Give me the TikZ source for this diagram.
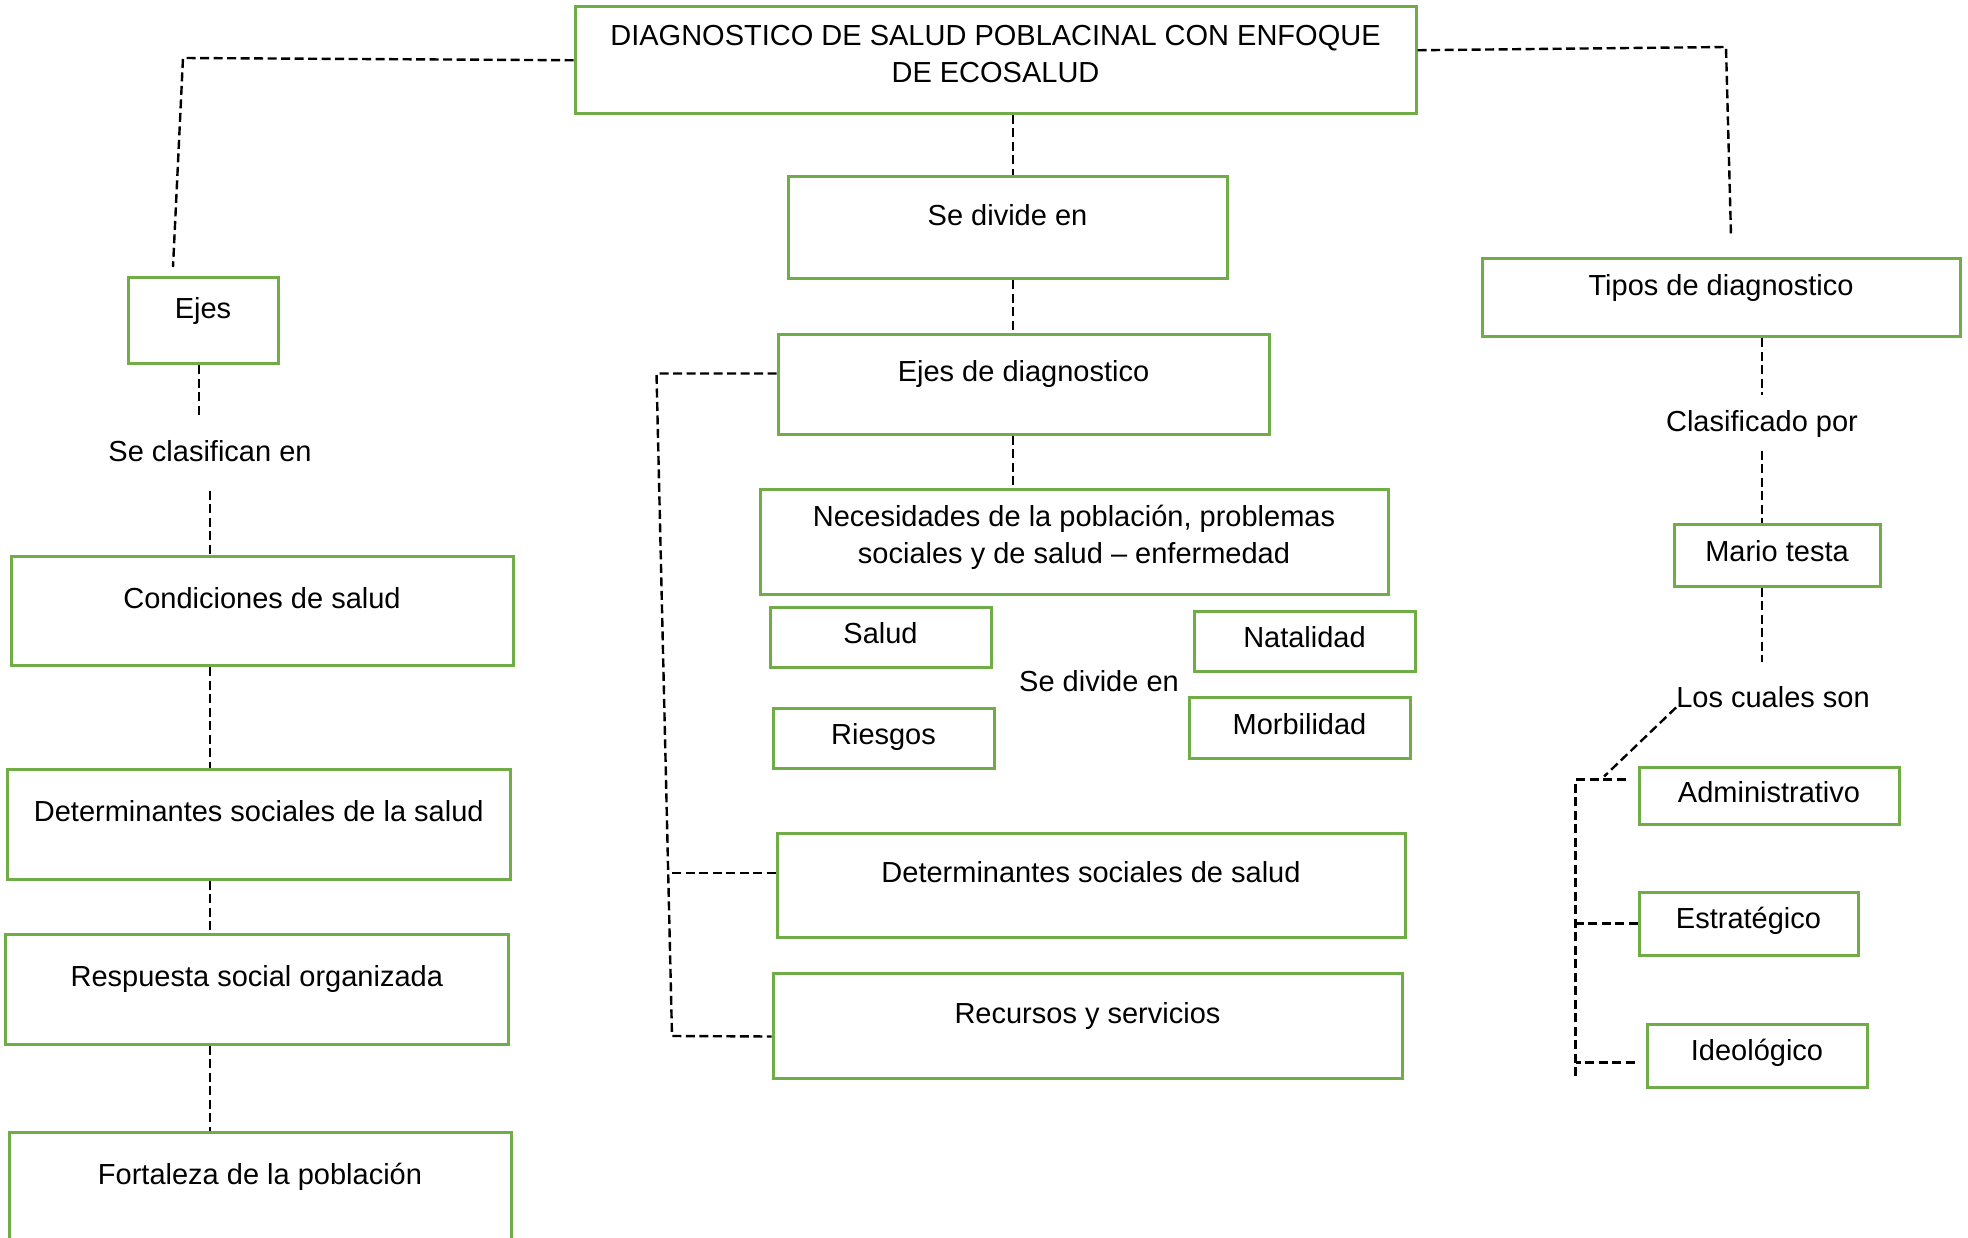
\documentclass[tikz,border=0pt]{standalone}
\usepackage{fontspec}
\setmainfont{Liberation Sans}
\definecolor{boxgreen}{HTML}{70AD47}
\tikzset{
  gbox/.style={draw=boxgreen, line width=3pt, rectangle, inner sep=0pt, align=center},
  one/.style={gbox, text height=21pt, text depth=8pt},
  tall/.style={gbox, text height=21pt, text depth=26pt},
  word/.style={inner xsep=0pt, text height=21pt, text depth=4pt},
  link/.style={line width=2.4pt, dash pattern=on 9pt off 4.5pt},
}
\begin{document}
\begin{tikzpicture}[x=1pt,y=-1pt,font=\fontsize{29pt}{37pt}\selectfont]
\useasboundingbox (0,0) rectangle (1968,1238);
\coordinate (spine) at (1013,0);
\coordinate (lspine) at (210,0);
\coordinate (rspine) at (1762,0);
\coordinate (ejestop) at (173,267);
\coordinate (tipostop) at (1731,236);
\coordinate (cbot) at (672,1036);

\node[gbox, text depth=13.5pt, minimum width=841pt, minimum height=106.5pt] (diag) at (995.5,60.25) {DIAGNOSTICO DE SALUD POBLACINAL CON ENFOQUE\\DE ECOSALUD};
\node[tall, minimum width=439pt, minimum height=102pt] (sediv) at (1007.5,228) {Se divide en};
\node[tall, minimum width=491pt, minimum height=99pt] (ejesd) at (1023.5,384.5) {Ejes de diagnostico};
\node[gbox, text depth=15pt, minimum width=628pt, minimum height=105pt] (neces) at (1074,541.5) {Necesidades de la población, problemas\\sociales y de salud – enfermedad};
\node[one, minimum width=221pt, minimum height=60pt] (salud) at (880.5,637) {Salud};
\node[one, minimum width=221pt, minimum height=60pt] (riesgo) at (883.5,738) {Riesgos};
\node[one, minimum width=221pt, minimum height=60pt] (natal) at (1304.5,641) {Natalidad};
\node[one, minimum width=221pt, minimum height=61pt] (morb) at (1299.5,727.5) {Morbilidad};
\node[word] (divtxt) at (1099,683) {Se divide en};
\node[tall, minimum width=628pt, minimum height=104pt] (dsal) at (1091,885) {Determinantes sociales de salud};
\node[tall, minimum width=629pt, minimum height=105pt] (recur) at (1087.5,1025.5) {Recursos y servicios};

\node[tall, minimum width=150pt, minimum height=86pt] (ejes) at (203,321) {Ejes};
\node[word, inner ysep=25pt] (clasif) at (210,453) {Se clasifican en};
\node[tall, minimum width=502pt, minimum height=109.5pt] (cond) at (262,610.75) {Condiciones de salud};
\node[tall, minimum width=502.5pt, minimum height=110pt] (dets) at (258.75,824) {Determinantes sociales de la salud};
\node[tall, minimum width=502.4pt, minimum height=110pt] (resp) at (256.8,989) {Respuesta social organizada};
\node[tall, minimum width=502pt, minimum height=110pt] (fort) at (260,1187) {Fortaleza de la población};

\node[tall, minimum width=478pt, minimum height=78pt] (tipos) at (1721,298) {Tipos de diagnostico};
\node[word, inner ysep=15pt] (clasp) at (1762,423) {Clasificado por};
\node[one, minimum width=206pt, minimum height=62pt] (mario) at (1777,555) {Mario testa};
\node[word, inner ysep=24pt] (cuales) at (1773,699) {Los cuales son};
\node[one, minimum width=260pt, minimum height=57pt] (admin) at (1769,795.5) {Administrativo};
\node[one, text depth=12pt, minimum width=219pt, minimum height=63pt] (estr) at (1748.5,923.5) {Estratégico};
\node[one, text depth=12pt, minimum width=220pt, minimum height=63pt] (ideo) at (1757,1055.5) {Ideológico};

\draw[link] (diag.west) -- (183,58) -- (ejestop);
\draw[link] ([yshift=10pt]diag.east) -- (1726,47) -- (tipostop);
\draw[link] (diag.south -| spine) -- (sediv.north -| spine);
\draw[link] (sediv.south -| spine) -- (ejesd.north -| spine);
\draw[link] (ejesd.south -| spine) -- (neces.north -| spine);
\draw[link] ([yshift=11pt]ejesd.west) -- ++(-120,0) -- (cbot) -- ([yshift=-11pt]recur.west);
\draw[link] ([yshift=12pt]dsal.west) -- ++(-108,0);

\draw[link] ([xshift=-4pt]ejes.south) -- ([xshift=-4pt]ejes.south |- clasif.north);
\draw[link] (clasif.south -| lspine) -- (cond.north -| lspine);
\draw[link] (cond.south -| lspine) -- (dets.north -| lspine);
\draw[link] (dets.south -| lspine) -- (resp.north -| lspine);
\draw[link] (resp.south -| lspine) -- (fort.north -| lspine);

\draw[link] (tipos.south -| rspine) -- (clasp.north -| rspine);
\draw[link] (clasp.south -| rspine) -- (mario.north -| rspine);
\draw[link] (mario.south -| rspine) -- (cuales.north -| rspine);
\draw[link] (cuales.base west) -- ++(-72,69);
\draw[link] ([shift={(-12pt,16pt)}]admin.west) -- ++(-50,0) -- ++(0,296);
\draw[link] (estr.west) -- ++(-62,0);
\draw[link] ([shift={(-11pt,-7pt)}]ideo.west) -- ++(-59,0);
\end{tikzpicture}
\end{document}
